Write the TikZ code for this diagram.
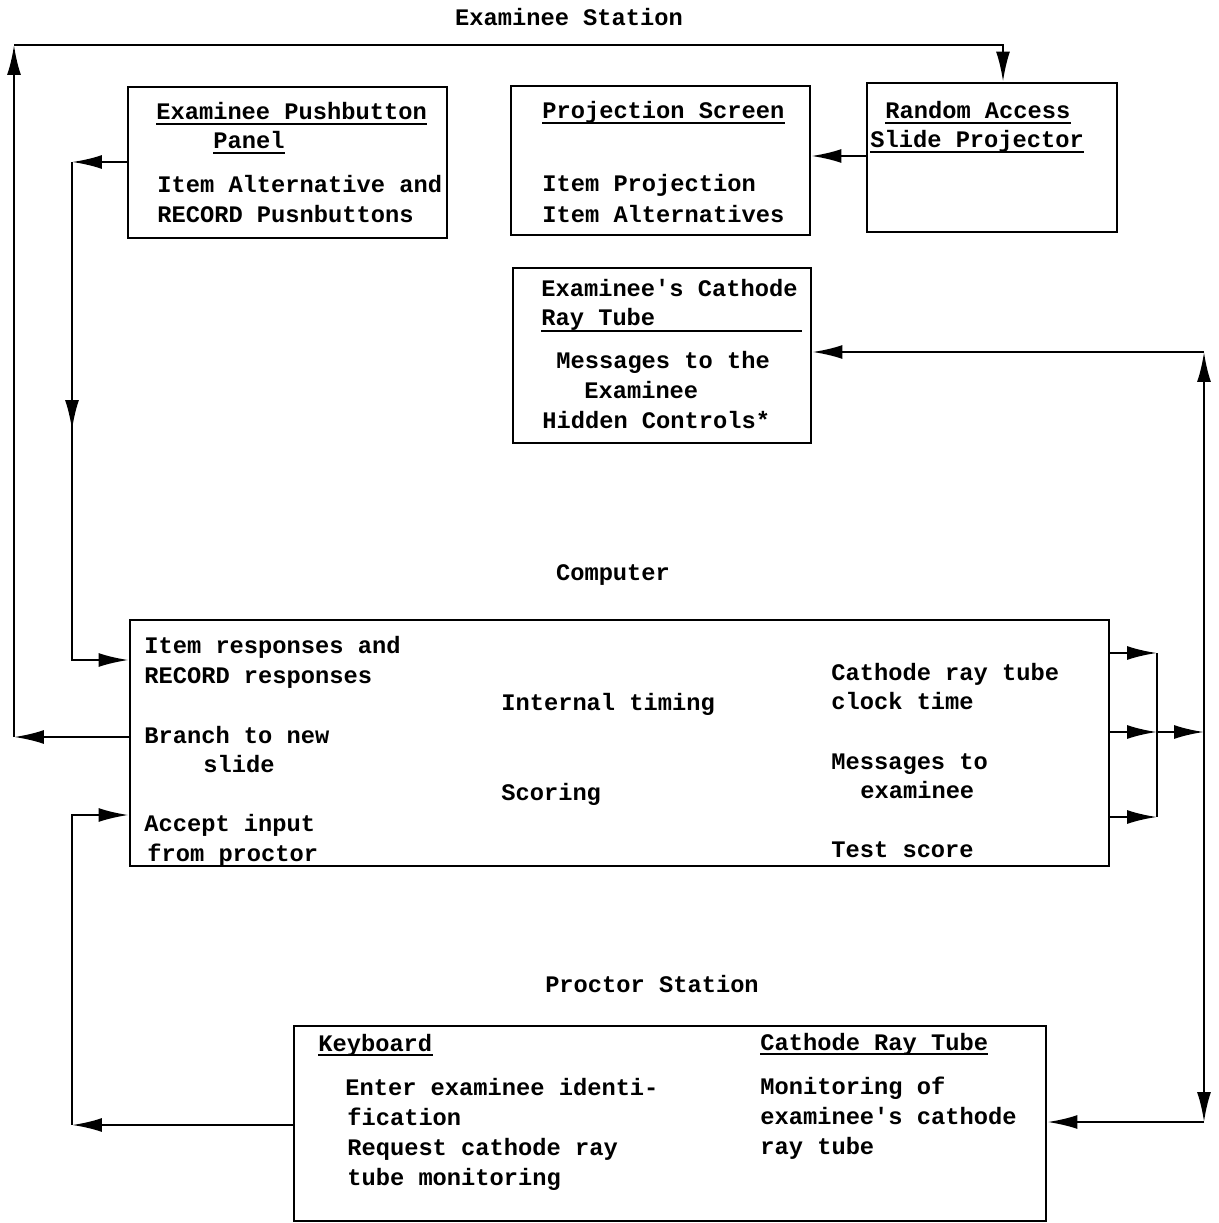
\documentclass[tikz,border=0pt]{standalone}
\usepackage{fontspec}
\setmonofont{Liberation Mono}
\usepackage{tikz}
\usetikzlibrary{arrows.meta, positioning, fit, calc}

\tikzset{
  box/.style={draw=black, line width=1.6pt, inner sep=0pt},
  lbl/.style={anchor=base west, inner sep=0pt},
  ttl/.style={anchor=base, inner sep=0pt},
  arr/.style={line width=1.4pt, -{Latex[length=6mm, width=2.8mm]}},
  wire/.style={line width=1.4pt},
  rule/.style={line width=1.1pt}
}

\begin{document}
\begin{tikzpicture}[x=0.02cm, y=-0.02cm, every node/.style={font=\ttfamily\bfseries\fontsize{13.5}{17}\selectfont}]
        \useasboundingbox (0,0) rectangle (1219,1223);

        % --- Examinee Station ---
        \node[ttl] (stexam) at (569,26) {Examinee Station};

        \node[box, fit={(128,87) (447,238)}] (panel) {};
        \node[lbl] (pan1) at (156,120) {Examinee Pushbutton};
        \node[lbl] (pan2) at (213,149) {Panel};
        \node[lbl] (pan3) at (157,193) {Item Alternative and};
        \node[lbl] (pan4) at (157,222) {RECORD Pusnbuttons};

        \node[box, fit={(511,86) (810,235)}] (screen) {};
        \node[lbl] (scr1) at (542,119) {Projection Screen};
        \node[lbl] (scr2) at (542,192) {Item Projection};
        \node[lbl] (scr3) at (542,222) {Item Alternatives};

        \node[box, fit={(867,83) (1117,232)}] (proj) {};
        \node[lbl] (prj1) at (885,119) {Random Access};
        \node[lbl] (prj2) at (870,148) {Slide Projector};

        \node[box, fit={(513,268) (811,443)}] (crt) {};
        \node[lbl] (crt1) at (541,296) {Examinee's Cathode};
        \node[lbl] (crt2) at (541,325) {Ray Tube};
        \draw[rule] (541,331) -- (802,331);
        \node[lbl] (crt3) at (556,368) {Messages to the};
        \node[lbl] (crt4) at (584,398) {Examinee};
        \node[lbl] (crt5) at (542,428) {Hidden Controls*};

        % underlined headings
        \foreach \t in {pan1, pan2, scr1, prj1, prj2}
            \draw[rule] ([yshift=-0.8mm]\t.base west) -- ([yshift=-0.8mm]\t.base east);

        % --- Computer ---
        \node[ttl] (stcomp) at (613,580) {Computer};

        \node[box, fit={(130,620) (1109,866)}] (comp) {};
        \node[lbl] (cmp1) at (144,653) {Item responses and};
        \node[lbl] (cmp2) at (144,683) {RECORD responses};
        \node[lbl] (cmp3) at (144,743) {Branch to new};
        \node[lbl] (cmp4) at (203,772) {slide};
        \node[lbl] (cmp5) at (144,831) {Accept input};
        \node[lbl] (cmp6) at (147,861) {from proctor};
        \node[lbl] (cmp7) at (501,710) {Internal timing};
        \node[lbl] (cmp8) at (501,800) {Scoring};
        \node[lbl] (cmp9) at (831,680) {Cathode ray tube};
        \node[lbl] (cmp10) at (831,709) {clock time};
        \node[lbl] (cmp11) at (831,769) {Messages to};
        \node[lbl] (cmp12) at (860,798) {examinee};
        \node[lbl] (cmp13) at (831,857) {Test score};

        % --- Proctor Station ---
        \node[ttl] (stproc) at (652,992) {Proctor Station};

        \node[box, fit={(294,1026) (1046,1221)}] (proctor) {};
        \node[lbl] (key1) at (318,1051) {Keyboard};
        \node[lbl] (key2) at (345,1095) {Enter examinee identi-};
        \node[lbl] (key3) at (347,1125) {fication};
        \node[lbl] (key4) at (347,1155) {Request cathode ray};
        \node[lbl] (key5) at (347,1185) {tube monitoring};
        \node[lbl] (mon1) at (760,1050) {Cathode Ray Tube};
        \node[lbl] (mon2) at (760,1094) {Monitoring of};
        \node[lbl] (mon3) at (760,1124) {examinee's cathode};
        \node[lbl] (mon4) at (760,1154) {ray tube};

        \foreach \t in {key1, mon1}
            \draw[rule] ([yshift=-0.8mm]\t.base west) -- ([yshift=-0.8mm]\t.base east);

        % --- connectors ---
        \coordinate (bl) at (14,737);
        \coordinate (tl) at (14,45);
        \coordinate (tr) at (1003,45);
        \draw[arr] (comp.west |- bl) -- (bl);
        \draw[arr] (bl) -- (tl);
        \draw[arr] (tl) -- (tr) -- (tr |- proj.north);

        \coordinate (sp) at (0,156);
        \draw[arr] (proj.west |- sp) -- (screen.east |- sp);

        \coordinate (pl) at (72,162);
        \coordinate (pm) at (72,430);
        \coordinate (pb) at (72,660);
        \draw[arr] (panel.west |- pl) -- (pl);
        \draw[arr] (pl) -- (pb) -- (comp.west |- pb);
        \draw[arr] (pl) -- (pm);

        \coordinate (kl) at (72,1125);
        \coordinate (ka) at (72,815);
        \draw[arr] (proctor.west |- kl) -- (kl);
        \draw[arr] (kl) -- (ka) -- (comp.west |- ka);

        \coordinate (b1) at (1157,653);
        \coordinate (b2) at (1157,732);
        \coordinate (b3) at (1157,817);
        \foreach \b in {b1, b2, b3}
            \draw[arr] (comp.east |- \b) -- (\b);
        \draw[wire] (b1) -- (b3);

        \coordinate (rm) at (1204,732);
        \coordinate (rt) at (1204,352);
        \coordinate (rb) at (1204,1122);
        \draw[arr] (b2) -- (rm);
        \draw[arr] (rm) -- (rt);
        \draw[arr] (rt) -- (crt.east |- rt);
        \draw[arr] (rm) -- (rb);
        \draw[arr] (rb) -- (proctor.east |- rb);
\end{tikzpicture}
\end{document}
